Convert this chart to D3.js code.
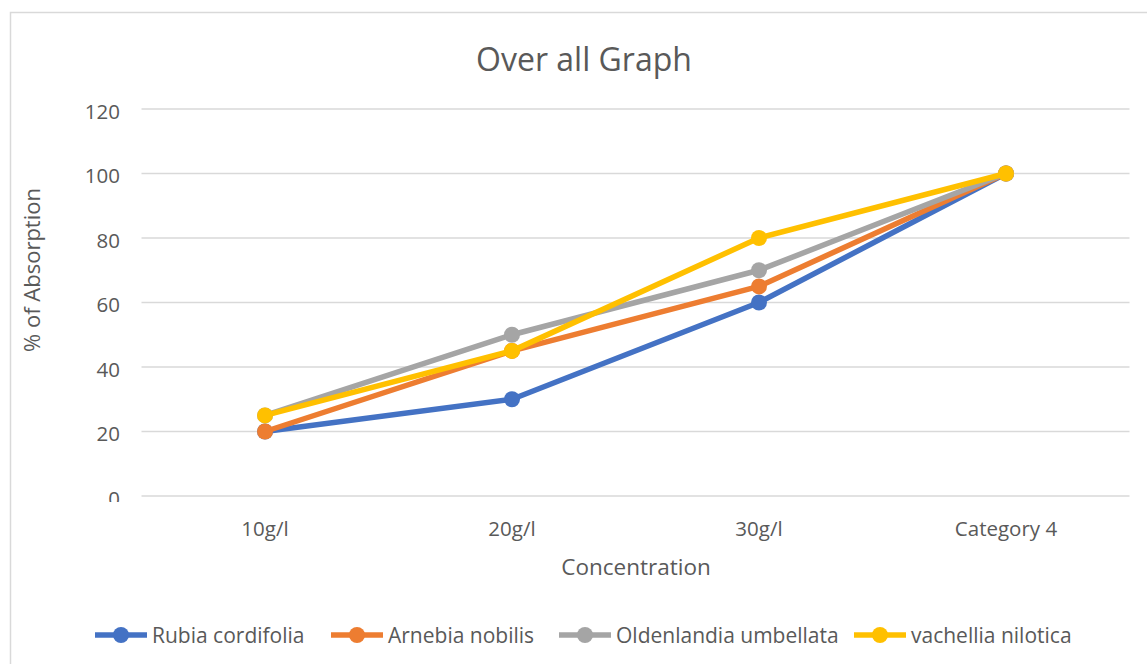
<!DOCTYPE html>
<html>
<head>
<meta charset="utf-8">
<script src="https://cdn.jsdelivr.net/npm/d3@7/dist/d3.min.js"></script>
<style>
  html, body { margin: 0; padding: 0; background: #fff; }
  svg { display: block; }
  text { font-family: "Open Sans", Carlito, Calibri, sans-serif; fill: #595959; }
</style>
</head>
<body>
<svg id="chart" width="1147" height="664"></svg>
<script>
// Concentration levels along the x axis
const categories = ["10g/l", "20g/l", "30g/l", "Category 4"];
// Percentage absorption per dye source
const rubiaCordifolia = [20, 30, 60, 100];
const arnebiaNobilis = [20, 45, 65, 100];
const oldenlandiaUmbellata = [25, 50, 70, 100];
const vachelliaNilotica = [25, 45, 80, 100];
const yTicks = [0, 20, 40, 60, 80, 100, 120];

const series = [
  { name: "Rubia cordifolia", values: rubiaCordifolia, color: "#4472C4" },
  { name: "Arnebia nobilis", values: arnebiaNobilis, color: "#ED7D31" },
  { name: "Oldenlandia umbellata", values: oldenlandiaUmbellata, color: "#A5A5A5" },
  { name: "vachellia nilotica", values: vachelliaNilotica, color: "#FFC000" }
];

const FONT = "'Open Sans', Carlito, Calibri, sans-serif";
const svg = d3.select("#chart");
const W = 1147, H = 664;
const plot = { left: 141.5, right: 1129.5, top: 109, bottom: 496 };

// chart area frame
svg.append("rect")
  .attr("x", 10.5).attr("y", 12.5)
  .attr("width", W + 20).attr("height", H + 20)
  .attr("fill", "#fff").attr("stroke", "#D9D9D9").attr("stroke-width", 1.5);

const x = d3.scaleBand().domain(categories).range([plot.left, plot.right]);
const y = d3.scaleLinear().domain([0, 120]).range([plot.bottom, plot.top]);
const cx = c => x(c) + x.bandwidth() / 2;

// horizontal gridlines
svg.append("g").selectAll("line").data(yTicks).join("line")
  .attr("x1", plot.left).attr("x2", plot.right)
  .attr("y1", d => y(d)).attr("y2", d => y(d))
  .attr("stroke", "#D9D9D9").attr("stroke-width", 1.3);

// y tick labels; the lowest one is cut by the chart's lower edge
svg.append("clipPath").attr("id", "yclip")
  .append("rect").attr("x", 0).attr("y", 0).attr("width", 140).attr("height", 502);
const gy = svg.append("g").attr("clip-path", "url(#yclip)")
  .append("g").attr("transform", "translate(120,0)")
  .call(d3.axisLeft(y).tickValues(yTicks).tickSize(0).tickPadding(0));
gy.select(".domain").remove();
gy.selectAll("text")
  .attr("dy", 9).attr("font-size", 20.5).attr("fill", "#595959")
  .style("font-family", FONT);

// x tick labels
const gx = svg.append("g").attr("transform", "translate(0,536)")
  .call(d3.axisBottom(x).tickSize(0).tickPadding(0));
gx.select(".domain").remove();
gx.selectAll("text")
  .attr("y", 0).attr("dy", 0)
  .attr("font-size", 20.5).attr("fill", "#595959")
  .style("font-family", FONT);

// title and axis titles
svg.append("text").attr("x", 584).attr("y", 71).attr("text-anchor", "middle")
  .attr("font-size", 32).text("Over all Graph");
svg.append("text").attr("x", 636).attr("y", 575).attr("text-anchor", "middle")
  .attr("font-size", 22.5).text("Concentration");
svg.append("text")
  .attr("transform", "translate(40,270) rotate(-90)")
  .attr("text-anchor", "middle").attr("font-size", 22).text("% of Absorption");

// series lines and markers
const line = d3.line()
  .x((d, i) => cx(categories[i]))
  .y(d => y(d));

series.forEach(s => {
  const g = svg.append("g");
  g.append("path").datum(s.values)
    .attr("d", line).attr("fill", "none")
    .attr("stroke", s.color).attr("stroke-width", 5.5)
    .attr("stroke-linejoin", "round");
  g.selectAll("circle").data(s.values).join("circle")
    .attr("cx", (d, i) => cx(categories[i]))
    .attr("cy", d => y(d))
    .attr("r", 8).attr("fill", s.color);
});

// legend
const legendX = [121, 357, 585, 880];
const lg = svg.append("g").attr("transform", "translate(0,635)");
series.forEach((s, i) => {
  const g = lg.append("g").attr("transform", `translate(${legendX[i]},0)`);
  g.append("line").attr("x1", -26).attr("x2", 26).attr("y1", 0).attr("y2", 0)
    .attr("stroke", s.color).attr("stroke-width", 5.5);
  g.append("circle").attr("r", 8).attr("fill", s.color);
  g.append("text").attr("x", 31).attr("y", 8)
    .attr("font-size", 21).text(s.name);
});
</script>
</body>
</html>
